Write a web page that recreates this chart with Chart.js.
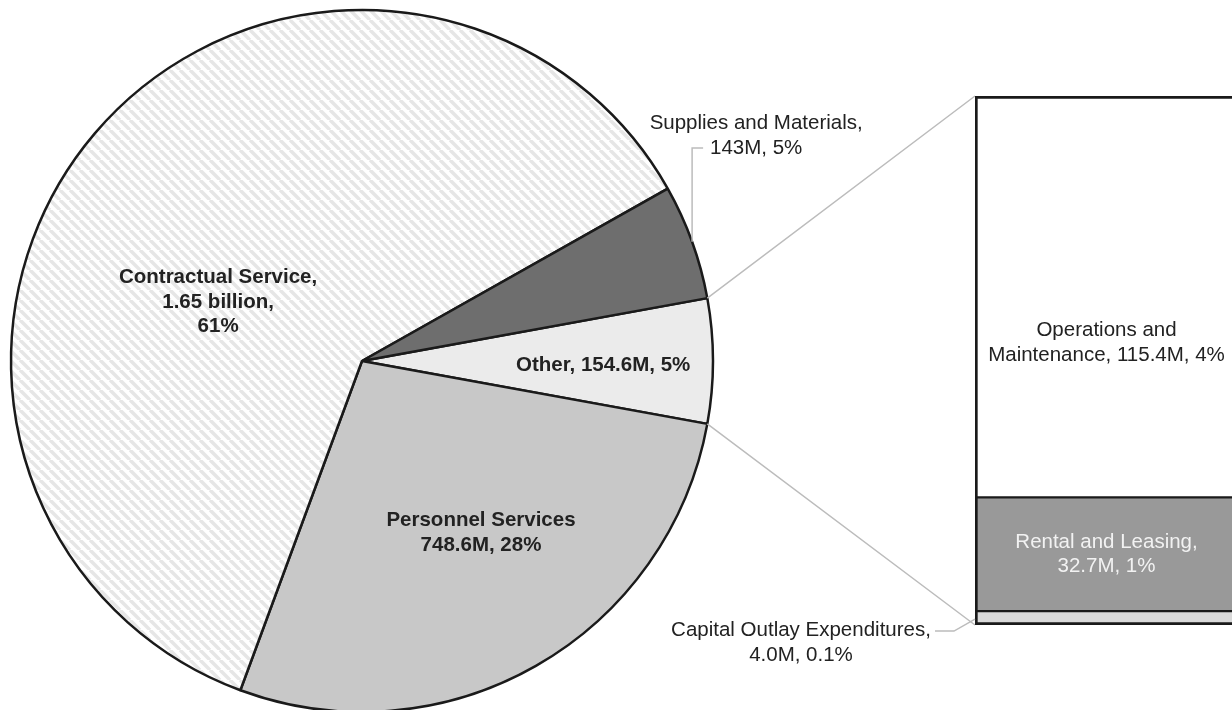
<!DOCTYPE html>
<html>
<head>
<meta charset="utf-8">
<script src="https://cdn.jsdelivr.net/npm/chart.js@4.4.1/dist/chart.umd.min.js"></script>
<style>
  html, body { margin: 0; padding: 0; background: #fff; overflow: hidden; }
  #wrap { position: relative; width: 1232px; height: 710px; overflow: hidden; }
  canvas { position: absolute; left: 0; top: 0; }
</style>
</head>
<body>
<div id="wrap">
  <canvas id="pie" width="1232" height="710"></canvas>
  <canvas id="bar" width="1300" height="710"></canvas>
</div>
<script>
// pie slices, clockwise starting with "Other" (which is broken out into the bar)
const pieCategories = ['Other', 'Personnel Services', 'Contractual Service', 'Supplies and Materials'];
const pieValues = [154.6, 748.6, 1650, 143];
const pieLabelText = [
  ['Other, 154.6M, 5%'],
  ['Personnel Services', '748.6M, 28%'],
  ['Contractual Service,', '1.65 billion,', '61%'],
  ['Supplies and Materials,', '143M, 5%']
];
// breakdown of "Other", bottom to top
const barCategories = ['Capital Outlay Expenditures', 'Rental and Leasing', 'Operations and Maintenance'];
const barValues = [4.0, 32.7, 115.4];
const barLabelText = [
  ['Capital Outlay Expenditures,', '4.0M, 0.1%'],
  ['Rental and Leasing,', '32.7M, 1%'],
  ['Operations and', 'Maintenance, 115.4M, 4%']
];

const FONT = '20.5px "Liberation Sans", Arial, sans-serif';
const LINE_H = 24.5;
const INK = '#222';
const EDGE = '#1a1a1a';
const LEADER = '#bcbcbc';

function hatch() {
  const s = 10, c = document.createElement('canvas');
  c.width = c.height = s;
  const g = c.getContext('2d');
  g.fillStyle = '#fff'; g.fillRect(0, 0, s, s);
  g.strokeStyle = '#e6e6e6'; g.lineWidth = 3.5;
  [-s, 0, s].forEach(o => { g.beginPath(); g.moveTo(o, 0); g.lineTo(o + s, s); g.stroke(); });
  return g.createPattern(c, 'repeat');
}

function drawLines(ctx, lines, x, y) {
  ctx.textAlign = 'center'; ctx.textBaseline = 'middle';
  const y0 = y - (lines.length - 1) * LINE_H / 2;
  lines.forEach((t, i) => ctx.fillText(t, x, y0 + i * LINE_H));
}

// label anchors relative to pie centre, in units of radius
const pieLabelSpots = [[0.687, 0.011], [0.339, 0.49], [-0.41, -0.168], [1.123, -0.642]];
// bar label shifts from segment middle (px)
const barLabelShift = [[-174, 25], [0, 0], [0, 46]];

const pieLabels = {
  id: 'pieLabels',
  afterDatasetsDraw(chart) {
    const ctx = chart.ctx, arcs = chart.getDatasetMeta(0).data;
    const { x: cx, y: cy, outerRadius: r } = arcs[0];
    ctx.save();
    ctx.fillStyle = INK;
    arcs.forEach((a, i) => {
      ctx.font = (i === 3 ? '' : 'bold ') + FONT;
      drawLines(ctx, pieLabelText[i], cx + pieLabelSpots[i][0] * r, cy + pieLabelSpots[i][1] * r);
    });
    // leader line for the outside label
    const s = arcs[3], mid = (s.startAngle + s.endAngle) / 2;
    const px = cx + r * Math.cos(mid), py = cy + r * Math.sin(mid);
    const ly = cy + pieLabelSpots[3][1] * r + LINE_H / 2;
    ctx.strokeStyle = LEADER; ctx.lineWidth = 1.5;
    ctx.beginPath(); ctx.moveTo(px, py); ctx.lineTo(px, ly); ctx.lineTo(px + 11, ly); ctx.stroke();
    ctx.restore();
  }
};

const total = pieValues.reduce((a, b) => a + b, 0);
const otherDeg = pieValues[0] / total * 360;

const pieChart = new Chart(document.getElementById('pie'), {
  type: 'pie',
  data: {
    labels: pieCategories,
    datasets: [{
      data: pieValues,
      backgroundColor: ['#ebebeb', '#c8c8c8', hatch(), '#6e6e6e'],
      borderColor: EDGE,
      borderWidth: 2.5,
      radius: 351
    }]
  },
  options: {
    responsive: false,
    animation: false,
    rotation: 90 - otherDeg / 2,
    layout: { padding: { left: 10, right: 518, top: 12, bottom: 0 } },
    plugins: { legend: { display: false }, tooltip: { enabled: false } }
  },
  plugins: [pieLabels]
});

const barLabels = {
  id: 'barLabels',
  beforeDatasetsDraw(chart) {
    // connectors from the "Other" slice to the bar
    const other = pieChart.getDatasetMeta(0).data[0];
    const topBar = chart.getDatasetMeta(2).data[0];
    const botBar = chart.getDatasetMeta(0).data[0];
    const left = topBar.x - topBar.width / 2;
    const { x: cx, y: cy, outerRadius: r } = other;
    const ctx = chart.ctx;
    ctx.save();
    ctx.strokeStyle = LEADER; ctx.lineWidth = 1.5;
    ctx.beginPath();
    ctx.moveTo(cx + r * Math.cos(other.startAngle), cy + r * Math.sin(other.startAngle));
    ctx.lineTo(left, topBar.y);
    ctx.moveTo(cx + r * Math.cos(other.endAngle), cy + r * Math.sin(other.endAngle));
    ctx.lineTo(left, botBar.base);
    ctx.stroke();
    ctx.restore();
  },
  afterDatasetsDraw(chart) {
    const ctx = chart.ctx;
    ctx.save();
    ctx.font = FONT;
    chart.data.datasets.forEach((ds, i) => {
      const b = chart.getDatasetMeta(i).data[0];
      const mid = (b.y + b.base) / 2;
      const [sx, sy] = barLabelShift[i];
      if (i === 0) {
        const left = b.x - b.width / 2;
        ctx.strokeStyle = LEADER; ctx.lineWidth = 1.5;
        ctx.beginPath();
        ctx.moveTo(left, mid + 1); ctx.lineTo(left - 21, mid + 13); ctx.lineTo(left - 40, mid + 13);
        ctx.stroke();
        ctx.fillStyle = INK;
        drawLines(ctx, barLabelText[i], left + sx, mid + sy);
      } else {
        ctx.fillStyle = i === 1 ? '#f2f2f2' : INK;
        drawLines(ctx, barLabelText[i], b.x + sx, mid + sy);
      }
    });
    ctx.restore();
  }
};

// outer edge 3px, shared edges 1.5 + 1.5
const barBorders = [
  { top: 1.5, bottom: 3, left: 3, right: 3 },
  { top: 1.5, bottom: 1.5, left: 3, right: 3 },
  { top: 3, bottom: 1.5, left: 3, right: 3 }
];

new Chart(document.getElementById('bar'), {
  type: 'bar',
  data: {
    labels: [''],
    datasets: barCategories.map((c, i) => ({
      label: c,
      data: [barValues[i]],
      backgroundColor: ['#d9d9d9', '#999999', '#ffffff'][i],
      borderWidth: barBorders[i]
    }))
  },
  options: {
    responsive: false,
    animation: false,
    layout: { padding: { left: 975, right: 62, top: 96, bottom: 85 } },
    datasets: { bar: { barPercentage: 1, categoryPercentage: 1, borderColor: EDGE, borderSkipped: false } },
    scales: {
      x: { display: false, stacked: true },
      y: { display: false, stacked: true, min: 0, max: barValues.reduce((a, b) => a + b, 0) }
    },
    plugins: { legend: { display: false }, tooltip: { enabled: false } }
  },
  plugins: [barLabels]
});
</script>
</body>
</html>
